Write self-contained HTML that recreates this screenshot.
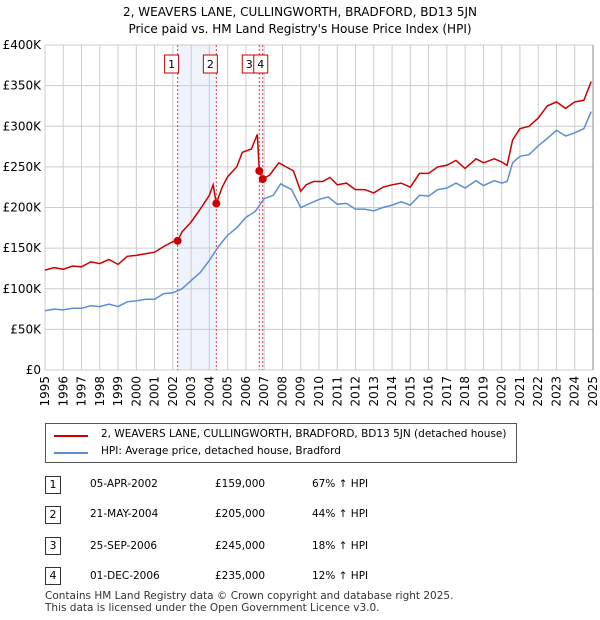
<!DOCTYPE html>
<html><head><meta charset="utf-8"><style>
body{margin:0;background:#fff;font-family:"DejaVu Sans","Liberation Sans",sans-serif;}
#w{position:relative;width:600px;height:620px;}
.t{position:absolute;font-size:11px;color:#000;white-space:nowrap}
svg text{font-family:"DejaVu Sans","Liberation Sans",sans-serif;}
</style></head><body><div id="w">
<svg id="s" width="600" height="620" style="position:absolute;left:0;top:0"></svg>
</div>
<script>
const hpiYears=[1995,1995.5,1996,1996.5,1997,1997.5,1998,1998.5,1999,1999.5,2000,2000.5,2001,2001.5,2002,2002.5,2003,2003.5,2004,2004.5,2005,2005.5,2006,2006.5,2007,2007.5,2007.9,2008.5,2009,2009.5,2010,2010.5,2011,2011.5,2012,2012.5,2013,2013.5,2014,2014.5,2015,2015.5,2016,2016.5,2017,2017.5,2018,2018.6,2019,2019.6,2020,2020.3,2020.6,2021,2021.5,2022,2022.5,2023,2023.5,2024,2024.5,2024.9];
const hpiValues=[73,75,74,76,76,79,78,81,78,84,85,87,87,94,95,100,110,120,135,152,166,175,188,195,211,215,229,222,200,205,210,213,204,205,198,198,196,200,203,207,203,215,214,222,224,230,224,233,227,233,230,232,255,263,265,276,285,295,288,292,297,318];
const priceYears=[1995,1995.5,1996,1996.5,1997,1997.5,1998,1998.5,1999,1999.5,2000,2000.5,2001,2001.5,2002,2002.26,2002.5,2003,2003.5,2004,2004.2,2004.38,2004.7,2005,2005.5,2005.8,2006.3,2006.62,2006.73,2006.92,2007.3,2007.8,2008.2,2008.6,2009,2009.3,2009.7,2010.2,2010.6,2011,2011.5,2012,2012.5,2013,2013.5,2014,2014.5,2015,2015.5,2016,2016.5,2017,2017.5,2018,2018.6,2019,2019.6,2020,2020.3,2020.6,2021,2021.5,2022,2022.5,2023,2023.5,2024,2024.5,2024.9];
const priceValues=[123,126,124,128,127,133,131,136,130,140,141,143,145,152,158,159,170,182,198,215,228,205,225,238,250,268,272,290,245,235,240,255,250,245,220,228,232,232,237,228,230,222,222,218,225,228,230,225,242,242,250,252,258,248,260,255,260,256,252,283,297,300,310,325,330,322,330,332,355];
const saleYears=[2002.26,2004.38,2006.73,2006.92];
const saleValues=[159,205,245,235];
const saleLabels=["1","2","3","4"];
const yTicks=[0,50,100,150,200,250,300,350,400];
const yTickLabels=["£0","£50K","£100K","£150K","£200K","£250K","£300K","£350K","£400K"];
const xTicks=[1995,1996,1997,1998,1999,2000,2001,2002,2003,2004,2005,2006,2007,2008,2009,2010,2011,2012,2013,2014,2015,2016,2017,2018,2019,2020,2021,2022,2023,2024,2025];

const X0=45,X1=593,Y0=370,Y1=45;
const xs=y=>X0+(y-1995)*(X1-X0)/30;
const ys=v=>Y0-v*(Y0-Y1)/400;
const svg=document.getElementById('s');
const NS='http://www.w3.org/2000/svg';
function mk(tag,attrs,parent){const e=document.createElementNS(NS,tag);for(const k in attrs)e.setAttribute(k,attrs[k]);(parent||svg).appendChild(e);return e;}

let sh=mk('rect',{x:xs(saleYears[0]),y:Y1,width:xs(saleYears[1])-xs(saleYears[0]),height:Y0-Y1,fill:'#eef3fc'});


let sh2=mk('rect',{x:xs(saleYears[2]),y:Y1,width:xs(saleYears[3])-xs(saleYears[2]),height:Y0-Y1,fill:'#eef3fc'});



yTicks.forEach((v,i)=>{
  let l=mk('line',{x1:X0,x2:X1,y1:ys(v),y2:ys(v),stroke:'#cccccc','stroke-width':1});
  
  
  let t=mk('text',{x:X0-4,y:ys(v)+4,'text-anchor':'end','font-size':12,fill:'#000'});
  t.textContent=yTickLabels[i];
  
  
});
xTicks.forEach(y=>{
  let l=mk('line',{x1:xs(y),x2:xs(y),y1:Y1,y2:Y0,stroke:'#cccccc','stroke-width':1});
  
  
  let t=mk('text',{x:0,y:0,'text-anchor':'end','font-size':12,fill:'#000',transform:`translate(${xs(y)+4},${Y0+6}) rotate(-90)`});
  t.textContent=y;
  
  
});

saleYears.forEach(y=>{
  let l=mk('line',{x1:xs(y),x2:xs(y),y1:Y1,y2:Y0,stroke:'#e84040','stroke-width':1,'stroke-dasharray':'2,2'});
  
  
});

function path(xa,va){return xa.map((y,i)=>(i?'L':'M')+xs(y).toFixed(1)+','+ys(va[i]).toFixed(1)).join('');}
let hp=mk('path',{d:path(hpiYears,hpiValues),fill:'none',stroke:'#5b8fd4','stroke-width':1.5});


let pp=mk('path',{d:path(priceYears,priceValues),fill:'none',stroke:'#cc0000','stroke-width':1.5});



saleYears.forEach((y,i)=>{
  let c=mk('circle',{cx:xs(y),cy:ys(saleValues[i]),r:4,fill:'#cc0000'});
  
  
});
const offs=[-8,-8,-12,-4];
saleYears.forEach((y,i)=>{
  const bx=xs(y)+offs[i];
  let r=mk('rect',{x:bx-5,y:55,width:14,height:18,fill:'#fff',stroke:'#cc0000','stroke-width':1});
  
  
  let t=mk('text',{x:bx+2,y:68,'text-anchor':'middle','font-size':11,fill:'#000'});
  t.textContent=saleLabels[i];
  
  
});
let ra=mk('line',{x1:X1,x2:X1,y1:Y1,y2:Y0,stroke:'#888','stroke-width':1});


</script>

<div class="t" style="left:0;width:600px;top:4px;text-align:center;font-size:12px;line-height:17px">2, WEAVERS LANE, CULLINGWORTH, BRADFORD, BD13 5JN<br>Price paid vs. HM Land Registry's House Price Index (HPI)</div>

<div style="position:absolute;left:45px;top:423px;width:470px;height:38px;border:1px solid #555;background:#fff">
 <div style="position:absolute;left:8px;top:11px;width:34px;height:2px;background:#cc0000"></div>
 <div class="t" style="left:55px;top:4px;font-size:10.5px">2, WEAVERS LANE, CULLINGWORTH, BRADFORD, BD13 5JN (detached house)</div>
 <div style="position:absolute;left:8px;top:28px;width:34px;height:2px;background:#5b8fd4"></div>
 <div class="t" style="left:55px;top:21px;font-size:10.5px">HPI: Average price, detached house, Bradford</div>
</div>

<div>
<div style="position:absolute;left:45px;top:476px;width:14px;height:16px;border:1px solid #333;font-size:11px;text-align:center;line-height:16px">1</div>
<div class="t" style="left:90px;top:478px;font-size:10.5px">05-APR-2002</div>
<div class="t" style="left:215px;top:478px;font-size:10.5px">£159,000</div>
<div class="t" style="left:312px;top:478px;font-size:10.5px">67% ↑ HPI</div>

<div style="position:absolute;left:45px;top:506px;width:14px;height:16px;border:1px solid #333;font-size:11px;text-align:center;line-height:16px">2</div>
<div class="t" style="left:90px;top:508px;font-size:10.5px">21-MAY-2004</div>
<div class="t" style="left:215px;top:508px;font-size:10.5px">£205,000</div>
<div class="t" style="left:312px;top:508px;font-size:10.5px">44% ↑ HPI</div>

<div style="position:absolute;left:45px;top:537px;width:14px;height:16px;border:1px solid #333;font-size:11px;text-align:center;line-height:16px">3</div>
<div class="t" style="left:90px;top:540px;font-size:10.5px">25-SEP-2006</div>
<div class="t" style="left:215px;top:540px;font-size:10.5px">£245,000</div>
<div class="t" style="left:312px;top:540px;font-size:10.5px">18% ↑ HPI</div>

<div style="position:absolute;left:45px;top:567px;width:14px;height:16px;border:1px solid #333;font-size:11px;text-align:center;line-height:16px">4</div>
<div class="t" style="left:90px;top:570px;font-size:10.5px">01-DEC-2006</div>
<div class="t" style="left:215px;top:570px;font-size:10.5px">£235,000</div>
<div class="t" style="left:312px;top:570px;font-size:10.5px">12% ↑ HPI</div>
</div>

<div class="t" style="left:45px;top:590px;font-size:10.5px;line-height:12px;color:#333">Contains HM Land Registry data © Crown copyright and database right 2025.<br>This data is licensed under the Open Government Licence v3.0.</div>
</body></html>
